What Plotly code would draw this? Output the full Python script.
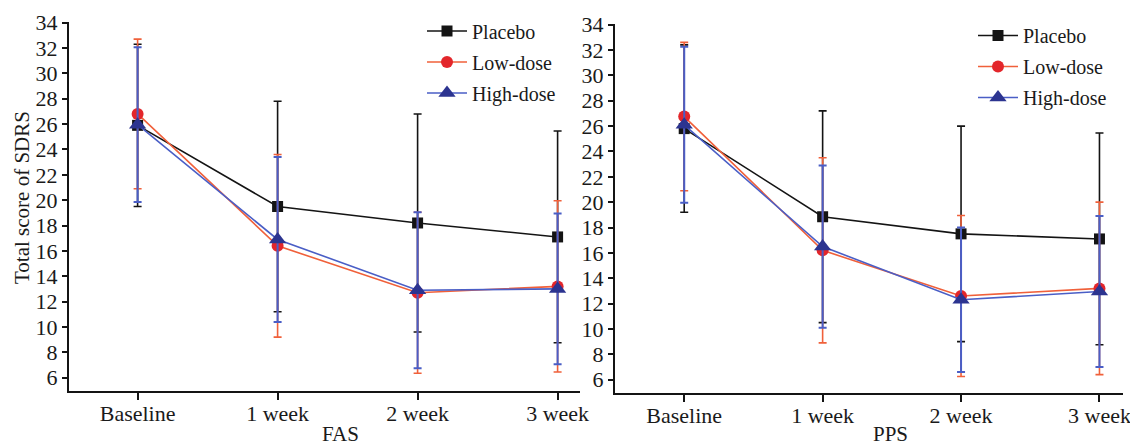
import plotly.graph_objects as go

categories = ["Baseline", "1 week", "2 week", "3 week"]
y_ticks = [6, 8, 10, 12, 14, 16, 18, 20, 22, 24, 26, 28, 30, 32, 34]

# FAS panel (mean, SD)
fas_placebo = [25.9, 19.5, 18.2, 17.1]
fas_placebo_sd = [6.4, 8.3, 8.6, 8.35]
fas_low = [26.8, 16.4, 12.7, 13.2]
fas_low_sd = [5.9, 7.2, 6.35, 6.75]
fas_high = [25.95, 16.9, 12.9, 13.0]
fas_high_sd = [6.1, 6.5, 6.15, 5.95]

# PPS panel (mean, SD)
pps_placebo = [25.8, 18.85, 17.5, 17.1]
pps_placebo_sd = [6.6, 8.35, 8.5, 8.35]
pps_low = [26.75, 16.2, 12.6, 13.2]
pps_low_sd = [5.85, 7.3, 6.35, 6.8]
pps_high = [26.1, 16.5, 12.3, 12.95]
pps_high_sd = [6.15, 6.4, 5.7, 5.95]

series_names = ["Placebo", "Low-dose", "High-dose"]

FONT = "Liberation Serif"
BLACK = "#141414"
TXT = "#1a1a1a"
LOW_LINE = "#f0603a"
LOW_MARK = "#e3262b"
HIGH_LINE = "#4a5ec6"
HIGH_MARK = "#2c3490"

styles = [
    dict(line=BLACK, mcol=BLACK, sym="square", size=11, err=BLACK, ew=1.6),
    dict(line=LOW_LINE, mcol=LOW_MARK, sym="circle", size=12, err=LOW_LINE, ew=1.6),
    dict(line=HIGH_LINE, mcol=HIGH_MARK, sym="triangle-up", size=15, err=HIGH_LINE, ew=2.0),
]

fig = go.Figure()

panels = [
    ("x", "y", "legend", [fas_placebo, fas_low, fas_high], [fas_placebo_sd, fas_low_sd, fas_high_sd]),
    ("x2", "y2", "legend2", [pps_placebo, pps_low, pps_high], [pps_placebo_sd, pps_low_sd, pps_high_sd]),
]

for xa, ya, lg, means, sds in panels:
    for i, (name, m, sd) in enumerate(zip(series_names, means, sds)):
        st = styles[i]
        fig.add_trace(go.Scatter(
            x=categories, y=m, name=name, mode="lines+markers",
            xaxis=xa, yaxis=ya, legend=lg, legendgroup=f"{lg}_{i}",
            line=dict(color=st["line"], width=1.6),
            marker=dict(symbol=st["sym"], size=st["size"], color=st["mcol"],
                        line=dict(width=0)),
            error_y=dict(type="data", array=sd, symmetric=True, visible=True,
                         color=st["err"], thickness=st["ew"], width=4),
        ))

W, H = 1130, 448

def px_x(p):
    return p / W

def px_y(p):
    return (H - p) / H

axis_common = dict(
    showline=True, linecolor=BLACK, linewidth=2, showgrid=False, zeroline=False,
    ticks="outside", tickcolor=BLACK, tickwidth=2, automargin=False,
    tickfont=dict(family=FONT, size=22, color=TXT),
)

fig.update_layout(
    width=W, height=H, margin=dict(l=0, r=0, t=0, b=0, pad=0, autoexpand=False),
    paper_bgcolor="white", plot_bgcolor="white",
    showlegend=True,
    xaxis=dict(domain=[px_x(69), px_x(580)], range=[-0.49, 3.16], anchor="y",
               ticklen=7, ticklabelstandoff=-5, **axis_common),
    yaxis=dict(domain=[px_y(391), px_y(22)], range=[4.95, 34.05], anchor="x",
               tickvals=y_ticks, ticklen=5, **axis_common),
    xaxis2=dict(domain=[px_x(615), px_x(1123)], range=[-0.5, 3.17], anchor="y2",
                ticklen=7, ticklabelstandoff=-5, **axis_common),
    yaxis2=dict(domain=[px_y(393), px_y(24)], range=[4.95, 34.05], anchor="x2",
                tickvals=y_ticks, ticklen=5, **axis_common),
    legend=dict(x=px_x(422), y=px_y(11.5), xanchor="left", yanchor="top",
                bgcolor="rgba(0,0,0,0)", tracegroupgap=2, itemwidth=40,
                font=dict(family=FONT, size=20, color=TXT)),
    legend2=dict(x=px_x(973), y=px_y(16), xanchor="left", yanchor="top",
                 bgcolor="rgba(0,0,0,0)", tracegroupgap=2, itemwidth=40,
                 font=dict(family=FONT, size=20, color=TXT)),
    annotations=[
        dict(text="Total score of SDRS", x=px_x(22), y=px_y(198), xref="paper", yref="paper",
             textangle=-90, showarrow=False, xanchor="center", yanchor="middle",
             font=dict(family=FONT, size=21, color=TXT)),
        dict(text="FAS", x=px_x(340), y=px_y(434), xref="paper", yref="paper",
             showarrow=False, xanchor="center", yanchor="middle",
             font=dict(family=FONT, size=21, color=TXT)),
        dict(text="PPS", x=px_x(890), y=px_y(434), xref="paper", yref="paper",
             showarrow=False, xanchor="center", yanchor="middle",
             font=dict(family=FONT, size=21, color=TXT)),
    ],
)

fig.write_html("out.html", config={"displayModeBar": False},
               post_script="document.body.style.margin='0';document.body.style.overflow='hidden';")
